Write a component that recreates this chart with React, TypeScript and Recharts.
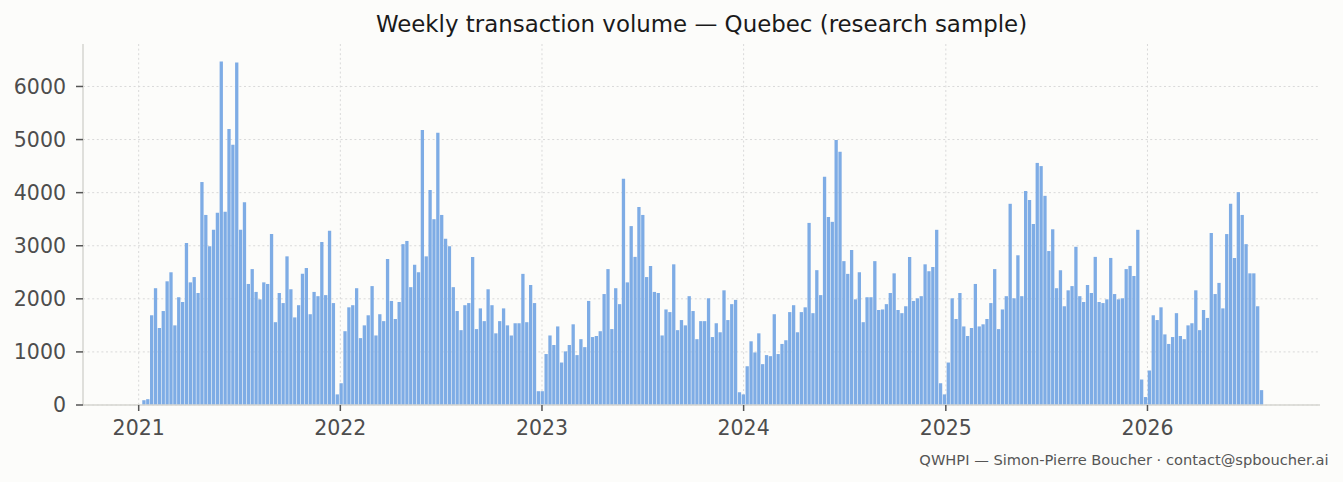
import { BarChart, Bar, XAxis, YAxis, CartesianGrid } from 'recharts';

// weekly totals, first week starting Mon 2021-01-11
const FIRST_WEEK = '2021-01-11';

const VOL_2021 = [
  90, 110, 1690, 2200, 1450, 1770, 2330, 2500, 1500, 2030,
  1940, 3050, 2310, 2410, 2110, 4200, 3580, 2990, 3300, 3620,
  6470, 3640, 5200, 4900, 6450, 3300, 3820, 2280, 2560, 2130,
  1990, 2310, 2280, 3220, 1560, 2110, 1920, 2800, 2180, 1650,
  1880, 2470, 2580, 1710, 2130, 2050, 3070, 2070, 3280, 1920,
  200,
];
const VOL_2022 = [
  410, 1390, 1840, 1880, 2200, 1260, 1500, 1690, 2240, 1310,
  1710, 1580, 2750, 1960, 1620, 1940, 3030, 3090, 2220, 2640,
  2500, 5180, 2800, 4050, 3500, 5130, 3580, 3130, 2990, 2220,
  1770, 1410, 1880, 1920, 2790, 1430, 1820, 1580, 2180, 1880,
  1350, 1580, 1820, 1500, 1310, 1540, 1540, 2470, 1560, 2260,
  1920, 260,
];
const VOL_2023 = [
  260, 960, 1310, 1130, 1480, 800, 1010, 1130, 1520, 940,
  1240, 1090, 1960, 1280, 1300, 1390, 2090, 2560, 1430, 2200,
  1900, 4260, 2310, 3370, 2790, 3730, 3580, 2410, 2620, 2130,
  2110, 1310, 1800, 1750, 2650, 1410, 1600, 1500, 2050, 1770,
  1240, 1580, 1580, 2010, 1280, 1540, 1370, 2160, 1600, 1900,
  1980, 240,
];
const VOL_2024 = [
  200, 730, 1200, 990, 1350, 770, 940, 920, 1710, 960,
  1150, 1220, 1750, 1880, 1370, 1750, 1840, 3430, 1730, 2540,
  2070, 4300, 3540, 3450, 4990, 4770, 2710, 2470, 2920, 1990,
  2500, 1560, 2030, 2030, 2710, 1790, 1800, 1900, 2110, 2480,
  1790, 1730, 1860, 2790, 1960, 2010, 2050, 2650, 2520, 2600,
  3300, 410,
];
const VOL_2025 = [
  200, 800, 2010, 1620, 2110, 1480, 1300, 1450, 2280, 1480,
  1520, 1620, 1920, 2560, 1430, 1800, 2050, 3790, 2010, 2820,
  2050, 4030, 3860, 3410, 4560, 4500, 3940, 2900, 3310, 2200,
  2540, 1860, 2160, 2240, 2980, 2050, 1940, 2260, 2110, 2790,
  1940, 1920, 1990, 2770, 2090, 1990, 2010, 2560, 2620, 2430,
  3300, 480, 150,
];
const VOL_2026 = [
  650, 1690, 1600, 1840, 1330, 1150, 1280, 1730, 1300, 1240,
  1500, 1540, 2160, 1410, 1790, 1640, 3240, 2090, 2300, 1820,
  3220, 3790, 2770, 4010, 3580, 3030, 2480, 2480, 1860, 280,
];

const YEARS = [2021, 2022, 2023, 2024, 2025, 2026];
const Y_TICKS = [0, 1000, 2000, 3000, 4000, 5000, 6000];

const DAY = 86400000;
const start = Date.parse(FIRST_WEEK);
const data = [...VOL_2021, ...VOL_2022, ...VOL_2023, ...VOL_2024, ...VOL_2025, ...VOL_2026].map(
  (volume, i) => ({ week: start + i * 7 * DAY, volume })
);

const jan2021 = Date.UTC(2021, 0, 1);
const xDomain = [jan2021 - 100.8 * DAY, jan2021 + 2138.3 * DAY];
const yearTicks = YEARS.map((y) => Date.UTC(y, 0, 1));

const FONT = '"DejaVu Sans", sans-serif';
const tickStyle = { fontSize: 20.5, fill: '#4d4d4d', fontFamily: FONT };

export default function App() {
  return (
    <div style={{ position: 'absolute', left: 0, top: 0, width: 1343, height: 482, background: '#fcfcfa' }}>
      <BarChart width={1343} height={482} data={data} margin={{ top: 44, right: 23, bottom: 47, left: 0 }}>
        <CartesianGrid
          stroke="#d9d9d9"
          strokeDasharray="2 2.6"
          horizontalValues={Y_TICKS}
          verticalValues={yearTicks}
        />
        <XAxis
          dataKey="week"
          type="number"
          domain={xDomain}
          ticks={yearTicks}
          interval={0}
          height={30}
          tickFormatter={(t: number) => String(new Date(t).getUTCFullYear())}
          tick={tickStyle}
          tickSize={6}
          tickMargin={9}
          axisLine={{ stroke: '#d6d6d0', strokeWidth: 1.5 }}
          tickLine={{ stroke: '#555', strokeWidth: 1.5 }}
        />
        <YAxis
          width={83}
          domain={[0, 6800]}
          ticks={Y_TICKS}
          interval={0}
          tick={tickStyle}
          tickSize={7}
          tickMargin={10}
          axisLine={{ stroke: '#d6d6d0', strokeWidth: 1.5 }}
          tickLine={{ stroke: '#555', strokeWidth: 1.5 }}
        />
        <Bar dataKey="volume" fill="#7eace5" barSize={3.3} isAnimationActive={false} />
      </BarChart>
      <svg width={1343} height={482} style={{ position: 'absolute', left: 0, top: 0, pointerEvents: 'none' }}>
        <text x={701.5} y={32.3} textAnchor="middle" fontSize={22.9} fill="#1a1a1a" fontFamily={FONT}>
          Weekly transaction volume — Quebec (research sample)
        </text>
        <text x={1328.5} y={465} textAnchor="end" fontSize={14.65} fill="#555" fontFamily={FONT}>
          QWHPI — Simon-Pierre Boucher · contact@spboucher.ai
        </text>
      </svg>
    </div>
  );
}
